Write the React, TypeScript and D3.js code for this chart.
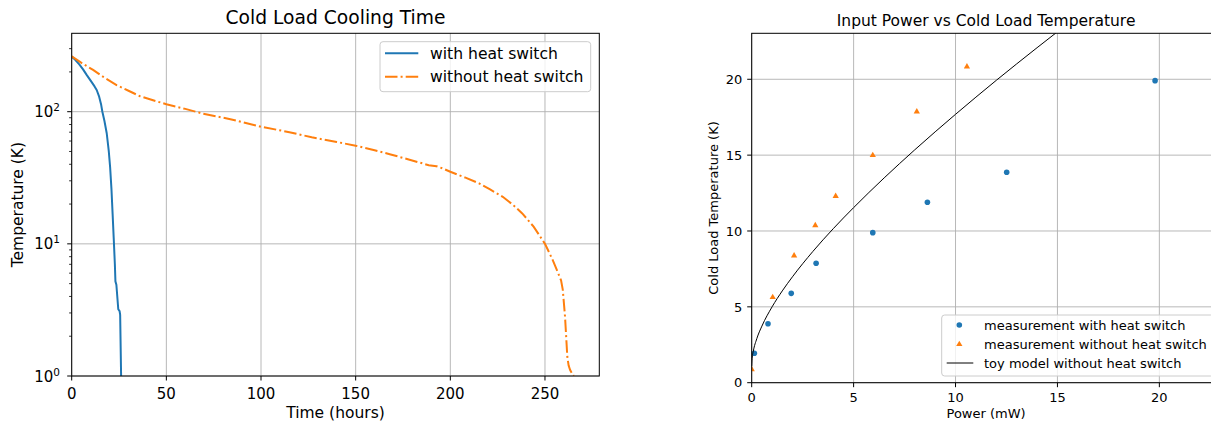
import * as d3 from 'd3';

// Left panel: cooling curves (hours, kelvin)
const timeWithSwitch = [0, 2, 4, 6, 7.9, 10, 12, 13.2, 14.5, 15.5, 16.2, 17.3, 18.5, 19.6, 20.3, 21.0, 21.6, 22.2, 22.8, 23.1, 23.6, 24.6, 25.3, 25.6, 26.1];
const tempWithSwitch = [262, 246, 228, 209, 190, 172, 156, 146, 130, 114, 100, 85, 68.7, 50, 38, 26, 17, 11, 7, 5.2, 4.9, 3.2, 3.1, 2.9, 1.0];

const timeWithoutSwitch = [0, 5, 11.3, 17, 23.7, 30, 36.1, 43, 50, 60, 69, 85, 100, 115, 126.8, 140, 150, 160, 168, 178, 188.6, 192.7, 196, 200, 208, 215.4, 221, 227.7, 233, 238, 244, 250, 254, 258.5, 259.4, 260.6, 261.8, 262.5, 263.3, 264.7, 265.3];
const tempWithoutSwitch = [262, 235, 207, 182, 159, 144, 131, 122, 114, 105, 97, 87, 77, 70, 64, 59, 55.3, 51, 47.7, 43.5, 39.4, 38.7, 37.2, 35.1, 31.7, 28.6, 25.8, 22.7, 19.8, 17, 13.5, 10, 7.6, 5.3, 4.5, 2.81, 1.4, 1.2, 1.11, 1.02, 1.0];

const timeTicks = [0, 50, 100, 150, 200, 250];
const tempDecades = [0, 1, 2];

// Right panel: input power (mW) vs cold load temperature (K)
const powerWithSwitch = [0.13, 0.8, 1.94, 3.16, 5.94, 8.62, 12.51, 19.79];
const coldTempWithSwitch = [1.94, 3.89, 5.89, 7.87, 9.89, 11.89, 13.87, 19.91];

const powerWithoutSwitch = [0, 1.03, 2.08, 3.12, 4.12, 5.94, 8.1, 10.56];
const coldTempWithoutSwitch = [0.88, 5.63, 8.37, 10.37, 12.29, 14.99, 17.87, 20.83];

const modelPower = [0, 0.02, 0.08, 0.25, 0.5, 1, 1.5, 2, 3, 4, 5, 6.5, 8, 10, 12, 14, 16];
const modelTemp = [1.1, 1.58, 2.08, 2.9, 3.73, 5.0, 6.05, 6.98, 8.65, 10.15, 11.54, 13.5, 15.35, 17.69, 19.93, 22.08, 24.17];

const powerTicks = [0, 5, 10, 15, 20];
const coldTempTicks = [0, 5, 10, 15, 20];

const FONT = '"DejaVu Sans", sans-serif';
const BLUE = '#1f77b4';
const ORANGE = '#ff7f0e';
const GRID = '#b0b0b0';

function CoolingChart() {
  const left = 71.7, right = 599.3, top = 33.3, bottom = 376;
  const x = d3.scaleLinear().domain([0, 278.7]).range([left, right]);
  const y = d3.scaleLog().domain([1, 392]).range([bottom, top]);

  const line = d3
    .line<[number, number]>()
    .x((d) => x(d[0]))
    .y((d) => y(d[1]));

  const withPts = timeWithSwitch.map((t, i) => [t, tempWithSwitch[i]] as [number, number]);
  const withoutPts = timeWithoutSwitch.map((t, i) => [t, tempWithoutSwitch[i]] as [number, number]);

  const minorTicks: number[] = [];
  tempDecades.forEach((e) => {
    for (let m = 2; m <= 9; m++) {
      const v = m * Math.pow(10, e);
      if (v < 392) minorTicks.push(v);
    }
  });

  return (
    <g fontFamily={FONT}>
      <defs>
        <clipPath id="clipLeft">
          <rect x={left} y={top} width={right - left} height={bottom - top} />
        </clipPath>
      </defs>

      {/* grid */}
      {timeTicks.map((t) => (
        <line key={'gx' + t} x1={x(t)} x2={x(t)} y1={top} y2={bottom} stroke={GRID} strokeWidth={0.9} />
      ))}
      {tempDecades.map((e) => (
        <line key={'gy' + e} x1={left} x2={right} y1={y(Math.pow(10, e))} y2={y(Math.pow(10, e))} stroke={GRID} strokeWidth={0.9} />
      ))}

      {/* curves */}
      <g clipPath="url(#clipLeft)">
        <path d={line(withPts) || ''} fill="none" stroke={BLUE} strokeWidth={2} strokeLinejoin="round" />
        <path
          d={line(withoutPts) || ''}
          fill="none"
          stroke={ORANGE}
          strokeWidth={2}
          strokeDasharray="12.5,3.1,2,3.1"
        />
      </g>

      {/* frame */}
      <rect x={left} y={top} width={right - left} height={bottom - top} fill="none" stroke="#000" strokeWidth={1} />

      {/* x ticks */}
      {timeTicks.map((t) => (
        <g key={'xt' + t}>
          <line x1={x(t)} x2={x(t)} y1={bottom} y2={bottom + 4.5} stroke="#000" strokeWidth={1} />
          <text x={x(t)} y={399} textAnchor="middle" fontSize={15}>
            {t}
          </text>
        </g>
      ))}

      {/* y ticks */}
      {tempDecades.map((e) => (
        <g key={'yt' + e}>
          <line x1={left - 4.5} x2={left} y1={y(Math.pow(10, e))} y2={y(Math.pow(10, e))} stroke="#000" strokeWidth={1} />
          <text x={60} y={y(Math.pow(10, e)) + 5.5} textAnchor="end" fontSize={15}>
            10
            <tspan dy={-6} fontSize={10.5}>
              {e}
            </tspan>
          </text>
        </g>
      ))}
      {minorTicks.map((v) => (
        <line key={'ym' + v} x1={left - 2.6} x2={left} y1={y(v)} y2={y(v)} stroke="#000" strokeWidth={0.8} />
      ))}

      {/* labels */}
      <text x={(left + right) / 2} y={418.3} textAnchor="middle" fontSize={15.5}>
        Time (hours)
      </text>
      <text
        transform={`translate(23,${(top + bottom) / 2}) rotate(-90)`}
        textAnchor="middle"
        fontSize={15.5}
      >
        Temperature (K)
      </text>
      <text x={(left + right) / 2} y={23.5} textAnchor="middle" fontSize={18.7}>
        Cold Load Cooling Time
      </text>

      {/* legend */}
      <g>
        <rect x={380} y={41.7} width={210.7} height={50} rx={3} fill="#fff" fillOpacity={0.8} stroke="#cccccc" strokeWidth={1} />
        <line x1={385} x2={418.3} y1={53.3} y2={53.3} stroke={BLUE} strokeWidth={2} />
        <text x={430} y={53.3 + 5.6} fontSize={15.6}>
          with heat switch
        </text>
        <line x1={385} x2={418.3} y1={76.7} y2={76.7} stroke={ORANGE} strokeWidth={2} strokeDasharray="12.5,3.1,2,3.1" />
        <text x={430} y={76.7 + 5.6} fontSize={15.6}>
          without heat switch
        </text>
      </g>
    </g>
  );
}

function PowerChart() {
  const left = 751.7, right = 1220.5, top = 33.3, bottom = 382.7;
  const x = d3.scaleLinear().domain([0, 23]).range([left, right]);
  const y = d3.scaleLinear().domain([0, 23.03]).range([bottom, top]);

  const modelLine = d3
    .line<[number, number]>()
    .x((d) => x(d[0]))
    .y((d) => y(d[1]))
    .curve(d3.curveMonotoneX);
  const modelPts = modelPower.map((p, i) => [p, modelTemp[i]] as [number, number]);

  const triangle = d3.symbol(d3.symbolTriangle, 17)() || '';

  return (
    <g fontFamily={FONT}>
      <defs>
        <clipPath id="clipRight">
          <rect x={left} y={top} width={right - left} height={bottom - top} />
        </clipPath>
      </defs>

      {powerTicks.map((p) => (
        <line key={'gx' + p} x1={x(p)} x2={x(p)} y1={top} y2={bottom} stroke={GRID} strokeWidth={0.9} />
      ))}
      {coldTempTicks.map((t) => (
        <line key={'gy' + t} x1={left} x2={right} y1={y(t)} y2={y(t)} stroke={GRID} strokeWidth={0.9} />
      ))}

      <g clipPath="url(#clipRight)">
        {powerWithSwitch.map((p, i) => (
          <circle key={'c' + i} cx={x(p)} cy={y(coldTempWithSwitch[i])} r={2.8} fill={BLUE} />
        ))}
        {powerWithoutSwitch.map((p, i) => (
          <path
            key={'t' + i}
            d={triangle}
            transform={`translate(${x(p)},${y(coldTempWithoutSwitch[i])})`}
            fill={ORANGE}
          />
        ))}
        <path d={modelLine(modelPts) || ''} fill="none" stroke="#000" strokeWidth={1} />
      </g>

      <rect x={left} y={top} width={right - left} height={bottom - top} fill="none" stroke="#000" strokeWidth={1} />

      {powerTicks.map((p) => (
        <g key={'xt' + p}>
          <line x1={x(p)} x2={x(p)} y1={bottom} y2={bottom + 4.5} stroke="#000" strokeWidth={1} />
          <text x={x(p)} y={402} textAnchor="middle" fontSize={13}>
            {p}
          </text>
        </g>
      ))}
      {coldTempTicks.map((t) => (
        <g key={'yt' + t}>
          <line x1={left - 4.5} x2={left} y1={y(t)} y2={y(t)} stroke="#000" strokeWidth={1} />
          <text x={742.3} y={y(t) + 4.7} textAnchor="end" fontSize={13}>
            {t}
          </text>
        </g>
      ))}

      <text x={(left + right) / 2} y={418} textAnchor="middle" fontSize={13}>
        Power (mW)
      </text>
      <text transform={`translate(718,${(top + bottom) / 2}) rotate(-90)`} textAnchor="middle" fontSize={13}>
        Cold Load Temperature (K)
      </text>
      <text x={(left + right) / 2} y={26} textAnchor="middle" fontSize={15.5}>
        Input Power vs Cold Load Temperature
      </text>

      {/* legend */}
      <g>
        <rect x={941.7} y={315} width={272} height={61} rx={3} fill="#fff" fillOpacity={0.8} stroke="#cccccc" strokeWidth={1} />
        <circle cx={959.3} cy={325} r={2.8} fill={BLUE} />
        <text x={984} y={325 + 4.7} fontSize={13}>
          measurement with heat switch
        </text>
        <path d={triangle} transform="translate(959.3,344.3)" fill={ORANGE} />
        <text x={984} y={344.3 + 4.7} fontSize={13}>
          measurement without heat switch
        </text>
        <line x1={946.7} x2={973.3} y1={363} y2={363} stroke="#000" strokeWidth={1} />
        <text x={984} y={363 + 4.7} fontSize={13}>
          toy model without heat switch
        </text>
      </g>
    </g>
  );
}

export default function App() {
  return (
    <div style={{ position: 'absolute', left: 0, top: 0 }}>
      <svg width={1211} height={421} style={{ display: 'block', background: '#fff' }}>
        <CoolingChart />
        <PowerChart />
      </svg>
    </div>
  );
}
